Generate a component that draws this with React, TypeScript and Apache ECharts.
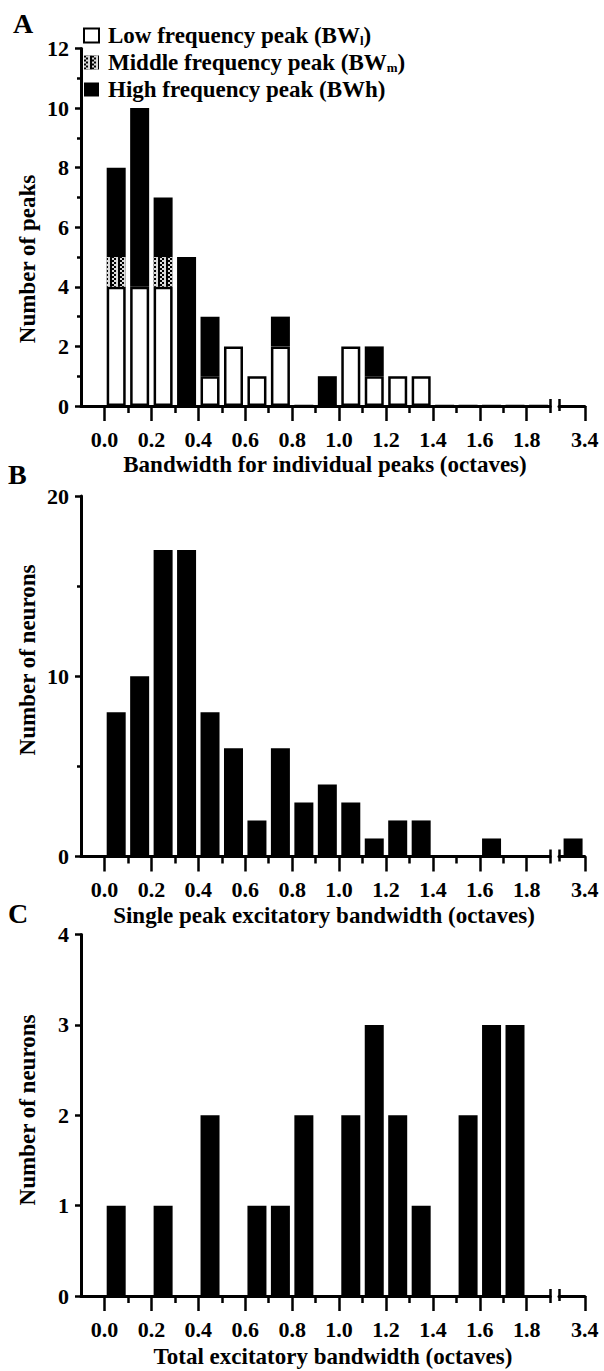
import React, { useEffect, useRef } from 'react';
import * as echarts from 'echarts';

// ---- data (bins of 0.1 octave, starting values) ----
const BIN_STARTS = [0.0, 0.1, 0.2, 0.3, 0.4, 0.5, 0.6, 0.7, 0.8, 0.9, 1.0, 1.1, 1.2, 1.3, 1.4, 1.5, 1.6, 1.7, 1.8];
const BREAK_BIN_START = 3.3;
const BIN_WIDTH = 0.1;

// Panel A: number of peaks (stacked)
const A_LOW = [4, 4, 4, 0, 1, 2, 1, 2, 0, 0, 2, 1, 1, 1, 0, 0, 0, 0, 0];
const A_MID = [1, 0, 1, 0, 0, 0, 0, 0, 0, 0, 0, 0, 0, 0, 0, 0, 0, 0, 0];
const A_HIGH = [3, 6, 2, 5, 2, 0, 0, 1, 0, 1, 0, 1, 0, 0, 0, 0, 0, 0, 0];
// Panel B: single peak excitatory bandwidth
const B_COUNTS = [8, 10, 17, 17, 8, 6, 2, 6, 3, 4, 3, 1, 2, 2, 0, 0, 1, 0, 0];
const B_BREAK = 1;
// Panel C: total excitatory bandwidth
const C_COUNTS = [1, 0, 1, 0, 2, 0, 1, 1, 2, 0, 2, 3, 2, 1, 0, 2, 3, 3, 0];
const C_BREAK = 0;

// tick labels
const X_MAJOR = [0.0, 0.2, 0.4, 0.6, 0.8, 1.0, 1.2, 1.4, 1.6, 1.8];
const X_MINOR = [0.1, 0.3, 0.5, 0.7, 0.9, 1.1, 1.3, 1.5, 1.7];
const X_BREAK_LABEL = [3.4];

const LEGEND_NAMES = ['Low frequency peak (BWl)', 'Middle frequency peak (BWm)', 'High frequency peak (BWh)'];
const X_TITLES = ['Bandwidth for individual peaks (octaves)', 'Single peak excitatory bandwidth (octaves)', 'Total excitatory bandwidth (octaves)'];
const Y_TITLES = ['Number of peaks', 'Number of neurons', 'Number of neurons'];
const PANEL_LETTERS = ['A', 'B', 'C'];

// ---- layout ----
const FONT = '"Liberation Serif", "Times New Roman", serif';
const PANELS = [
  { top: 48.5, height: 357.5, yMax: 12, yInt: 2, minor: true, letterX: 13, letterY: 24, yTitleY: 259, xTitleX: 325, xTitleY: 464 },
  { top: 496, height: 360.5, yMax: 20, yInt: 10, minor: true, letterX: 8, letterY: 475, yTitleY: 660, xTitleX: 324, xTitleY: 915 },
  { top: 934.5, height: 361.5, yMax: 4, yInt: 1, minor: false, letterX: 8, letterY: 914, yTitleY: 1110, xTitleX: 333, xTitleY: 1356 },
];
const X_LEFT = 81;
const X_WIDTH = 469.2;
const X_MIN = -0.1;
const X_MAX = 1.9;
const BRK_LEFT = 559;
const BRK_WIDTH = 25.8;
const BRK_MIN = 3.29;
const BRK_MAX = 3.4;
const AXES_PER_PANEL = 7;

const BLACK = '#000';

const binLabel = (s: number) => s.toFixed(1);
// the axis starts one bin width before 0.0: that slot stays empty
const CATEGORIES = ['pre', ...BIN_STARTS.map(binLabel)];

function buildOption() {
  const grid: any[] = [];
  const xAxis: any[] = [];
  const yAxis: any[] = [];
  const series: any[] = [];
  const graphic: any[] = [];

  const hidden = {
    type: 'value',
    position: 'bottom',
    splitLine: { show: false },
    axisLine: { show: false, onZero: false },
    axisTick: { show: false },
    axisLabel: { show: false },
  };
  const tickStyle = { color: BLACK, width: 2.5 };
  const labelStyle = { color: BLACK, fontFamily: FONT, fontWeight: 'bold', fontSize: 22 };

  PANELS.forEach((p, i) => {
    grid.push({ left: X_LEFT, top: p.top, width: X_WIDTH, height: p.height });
    grid.push({ left: BRK_LEFT, top: p.top, width: BRK_WIDTH, height: p.height });
    const gm = 2 * i;
    const gb = 2 * i + 1;
    // 0: main x axis (ticks + labels)
    xAxis.push({
      ...hidden, gridIndex: gm, min: X_MIN, max: X_MAX,
      axisLine: { show: true, onZero: false, lineStyle: { color: BLACK, width: 3 } },
      axisTick: { show: true, customValues: X_MAJOR, length: 15, lineStyle: tickStyle },
      axisLabel: { show: true, customValues: X_MAJOR, margin: 22, formatter: (v: number) => v.toFixed(1), ...labelStyle },
    });
    // 1: minor ticks + end-of-axis mark (outside)
    xAxis.push({
      ...hidden, gridIndex: gm, min: X_MIN, max: X_MAX,
      axisTick: { show: true, customValues: [...X_MINOR, X_MAX], length: 7, lineStyle: tickStyle },
    });
    // 2: end-of-axis mark (inside)
    xAxis.push({
      ...hidden, gridIndex: gm, min: X_MIN, max: X_MAX,
      axisTick: { show: true, inside: true, customValues: [X_MAX], length: 7, lineStyle: tickStyle },
    });
    // 3: broken part of the axis
    xAxis.push({
      ...hidden, gridIndex: gb, min: BRK_MIN, max: BRK_MAX,
      axisLine: { show: true, onZero: false, lineStyle: { color: BLACK, width: 3 } },
      axisTick: { show: true, customValues: X_BREAK_LABEL, length: 15, lineStyle: tickStyle },
      axisLabel: { show: true, customValues: X_BREAK_LABEL, margin: 22, formatter: (v: number) => v.toFixed(1), ...labelStyle },
    });
    // 4, 5: start-of-break mark
    xAxis.push({
      ...hidden, gridIndex: gb, min: BRK_MIN, max: BRK_MAX,
      axisTick: { show: true, customValues: [BRK_MIN], length: 5, lineStyle: tickStyle },
    });
    xAxis.push({
      ...hidden, gridIndex: gb, min: BRK_MIN, max: BRK_MAX,
      axisTick: { show: true, inside: true, customValues: [BRK_MIN], length: 7, lineStyle: tickStyle },
    });
    // 6: hidden category axis carrying the histogram bins
    xAxis.push({
      type: 'category', gridIndex: gm, position: 'bottom', show: false, data: CATEGORIES, boundaryGap: true,
      axisLine: { show: false, onZero: false },
    });

    yAxis.push({
      type: 'value', gridIndex: gm, position: 'left', min: 0, max: p.yMax, interval: p.yInt,
      axisLine: { show: true, onZero: false, lineStyle: { color: BLACK, width: 3 } },
      axisTick: { show: true, length: 6, lineStyle: tickStyle },
      minorTick: { show: p.minor, splitNumber: 2, length: 4, lineStyle: tickStyle },
      splitLine: { show: false },
      minorSplitLine: { show: false },
      axisLabel: { margin: 12, ...labelStyle },
    });
    yAxis.push({
      type: 'value', gridIndex: gb, position: 'left', min: 0, max: p.yMax, interval: p.yInt, show: false,
      splitLine: { show: false },
    });

    // texts
    graphic.push({
      type: 'text', left: p.letterX, top: p.letterY - 15,
      style: { text: PANEL_LETTERS[i], font: `bold 28px ${FONT}`, fill: BLACK },
    });
    graphic.push({
      type: 'text', x: 27, y: p.yTitleY, rotation: Math.PI / 2,
      style: { text: Y_TITLES[i], font: `bold 23px ${FONT}`, fill: BLACK, textAlign: 'center', textVerticalAlign: 'middle' },
    });
    graphic.push({
      type: 'text', x: p.xTitleX, y: p.xTitleY,
      style: { text: X_TITLES[i], font: `bold 23px ${FONT}`, fill: BLACK, textAlign: 'center', textVerticalAlign: 'middle' },
    });
  });

  const toData = (vals: number[]) => BIN_STARTS.map((s, k) => [binLabel(s), vals[k]]);
  const barBase = { type: 'bar', barWidth: 19, z: 3 };
  const cat = (p: number) => AXES_PER_PANEL * p + 6;
  const brk = (p: number) => AXES_PER_PANEL * p + 3;

  series.push({
    ...barBase, name: LEGEND_NAMES[0], stack: 'A', xAxisIndex: cat(0), yAxisIndex: 0,
    itemStyle: { color: '#fff', borderColor: BLACK, borderWidth: 2.5 },
    data: toData(A_LOW),
  });
  series.push({
    ...barBase, name: LEGEND_NAMES[1], stack: 'A', xAxisIndex: cat(0), yAxisIndex: 0,
    itemStyle: {
      color: BLACK,
      decal: { symbol: 'rect', symbolSize: 1, color: 'rgba(255,255,255,0.85)', dashArrayX: [[1.5, 1.5], [0, 1.5, 1.5]], dashArrayY: [1.5, 0] },
    },
    data: toData(A_MID),
  });
  series.push({
    ...barBase, name: LEGEND_NAMES[2], stack: 'A', xAxisIndex: cat(0), yAxisIndex: 0,
    itemStyle: { color: BLACK },
    data: toData(A_HIGH),
  });

  series.push({ ...barBase, name: 'B', xAxisIndex: cat(1), yAxisIndex: 2, itemStyle: { color: BLACK }, data: toData(B_COUNTS) });
  series.push({ ...barBase, name: 'B break', xAxisIndex: brk(1), yAxisIndex: 3, itemStyle: { color: BLACK }, data: [[BREAK_BIN_START + BIN_WIDTH / 2, B_BREAK]] });
  series.push({ ...barBase, name: 'C', xAxisIndex: cat(2), yAxisIndex: 4, itemStyle: { color: BLACK }, data: toData(C_COUNTS) });
  series.push({ ...barBase, name: 'C break', xAxisIndex: brk(2), yAxisIndex: 5, itemStyle: { color: BLACK }, data: [[BREAK_BIN_START + BIN_WIDTH / 2, C_BREAK]] });

  const legend = {
    orient: 'vertical', left: 78, top: 19,
    icon: 'rect', itemWidth: 15, itemHeight: 14, itemGap: 4,
    selectedMode: false,
    data: [
      { name: LEGEND_NAMES[0], itemStyle: { color: '#fff', borderColor: BLACK, borderWidth: 2 } },
      { name: LEGEND_NAMES[1] },
      { name: LEGEND_NAMES[2] },
    ],
    formatter: (name: string) => {
      if (name === LEGEND_NAMES[0]) return 'Low frequency peak (BW{sub|l})';
      if (name === LEGEND_NAMES[1]) return 'Middle frequency peak (BW{sub|m})';
      return name;
    },
    textStyle: {
      color: BLACK, fontFamily: FONT, fontWeight: 'bold', fontSize: 23, lineHeight: 23, padding: [0, 0, 0, 4],
      rich: { sub: { fontSize: 13, fontFamily: FONT, fontWeight: 'bold', color: BLACK, lineHeight: 23, verticalAlign: 'bottom', padding: [6, 0, 0, 0] } },
    },
  };

  return {
    animation: false,
    backgroundColor: '#fff',
    grid, xAxis, yAxis, series, legend, graphic,
  };
}

export default function App() {
  const ref = useRef<HTMLDivElement>(null);
  useEffect(() => {
    if (!ref.current) return;
    const chart = echarts.init(ref.current, undefined, { renderer: 'svg' });
    chart.setOption(buildOption() as any);
    return () => chart.dispose();
  }, []);
  return <div ref={ref} style={{ position: 'absolute', left: 0, top: 0, width: 604, height: 1371 }} />;
}
